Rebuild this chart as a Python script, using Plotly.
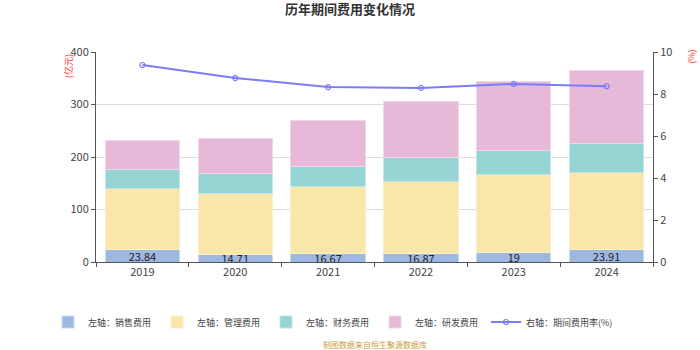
import plotly.graph_objects as go

years = ["2019", "2020", "2021", "2022", "2023", "2024"]
sales = [23.84, 14.71, 16.67, 16.87, 19, 23.91]
admin = [116.2, 115.3, 126.3, 137.1, 147.0, 147.1]
finance = [36, 38, 38, 46, 47, 54]
rnd = [55, 67, 88, 105, 130, 139]
rate = [9.38, 8.76, 8.33, 8.29, 8.48, 8.37]

fig = go.Figure()
fig.add_trace(go.Bar(x=years, y=sales, name="左轴：销售费用", marker=dict(color="#9db9e2", line=dict(color="#c9d9f0", width=1)),
                     text=[str(v) for v in sales], textposition="inside", insidetextanchor="middle",
                     constraintext="none", textangle=0,
                     textfont=dict(color="#222", size=11), cliponaxis=True))
fig.add_trace(go.Bar(x=years, y=admin, name="左轴：管理费用", marker=dict(color="#f8e7a9", line=dict(color="#fbf0c8", width=1))))
fig.add_trace(go.Bar(x=years, y=finance, name="左轴：财务费用", marker=dict(color="#97d5d5", line=dict(color="#c0e6e6", width=1))))
fig.add_trace(go.Bar(x=years, y=rnd, name="左轴：研发费用", marker=dict(color="#e7b9d9", line=dict(color="#f2d6e9", width=1))))
fig.add_trace(go.Scatter(x=years, y=rate, name="右轴：期间费用率(%)", yaxis="y2", mode="lines+markers",
                         legend="legend2",
                         line=dict(color="#7b7cf7", width=2),
                         marker=dict(symbol="circle-open", size=5, color="#7b7cf7", line=dict(width=1.2))))

legend_y = (350 - 322) / 350
fig.update_layout(
    width=700, height=350, barmode="stack", bargap=0.2,
    paper_bgcolor="white", plot_bgcolor="white",
    margin=dict(l=96, r=47, t=52, b=88),
    font=dict(family="Noto Sans CJK SC, Noto Sans, sans-serif", size=11, color="#444"),
    title=dict(text="<b>历年期间费用变化情况</b>", x=0.5, xanchor="center", y=0.985, yanchor="top",
               font=dict(size=13, color="#333")),
    xaxis=dict(type="category", tickson="boundaries", ticks="outside", ticklen=4, tickcolor="#555",
               showline=True, linecolor="#555", linewidth=1, tickfont=dict(size=11, color="#444")),
    yaxis=dict(range=[0, 400], dtick=100, showline=True, linecolor="#555", ticks="outside", ticklen=4,
               tickcolor="#555", gridcolor="#dddddd", zeroline=False, tickfont=dict(size=11, color="#444")),
    yaxis2=dict(range=[0, 10], dtick=2, overlaying="y", side="right", showline=True, linecolor="#555",
                ticks="outside", ticklen=4, tickcolor="#555", showgrid=False, zeroline=False,
                tickfont=dict(size=11, color="#444")),
    legend=dict(orientation="h", xref="container", yref="container", x=48 / 700, xanchor="left",
                y=legend_y, yanchor="middle", entrywidth=64, entrywidthmode="pixels",
                font=dict(size=9, color="#444"), itemwidth=30, traceorder="normal"),
    legend2=dict(orientation="h", xref="container", yref="container", x=486 / 700, xanchor="left",
                 y=legend_y, yanchor="middle",
                 font=dict(size=9, color="#444"), itemwidth=30),
    showlegend=True,
)
fig.add_annotation(text="(亿元)", xref="paper", yref="paper", x=-0.05, y=1.0, textangle=-90,
                   showarrow=False, font=dict(size=9, color="#ff3333"), xanchor="center", yanchor="top")
fig.add_annotation(text="(%)", xref="paper", yref="paper", x=1.07, y=1.02, textangle=-90,
                   showarrow=False, font=dict(size=9, color="#ff3333"), xanchor="center", yanchor="top")
fig.add_annotation(text="制图数据来自恒生聚源数据库", xref="paper", yref="paper", x=0.5, y=-0.395,
                   showarrow=False, font=dict(size=8, color="#c8a040"), xanchor="center", yanchor="middle")
fig.write_html("out.html")
